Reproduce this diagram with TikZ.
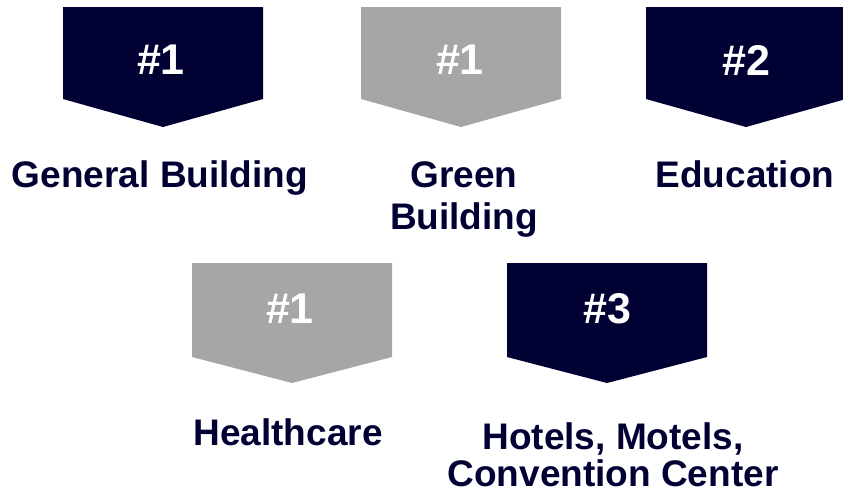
\documentclass[tikz,border=0pt]{standalone}
\usepackage{fontspec}
\setmainfont{Liberation Sans}
\definecolor{navy}{HTML}{000033}
\definecolor{greyf}{HTML}{A6A6A6}
\begin{document}
\begin{tikzpicture}[x=1pt,y=-1pt,
  numtxt/.style={text=white,font=\fontsize{43}{45}\selectfont\bfseries,inner sep=0pt},
  lbl/.style={text=navy,font=\fontsize{37}{42}\selectfont\bfseries,inner sep=0pt,align=center,anchor=north}]
\useasboundingbox (0,0) rectangle (843,493);
% shapes: left x, top y, width 200
\fill[navy]  (63,7) -- (263,7) -- (263,99) -- (163,127) -- (63,99) -- cycle;
\fill[greyf] (361,7) -- (561,7) -- (561,99) -- (461,127) -- (361,99) -- cycle;
\fill[navy]  (646,7) -- (846,7) -- (846,99) -- (746,127) -- (646,99) -- cycle;
\fill[greyf] (192,263) -- (392,263) -- (392,357) -- (292,383) -- (192,357) -- cycle;
\fill[navy]  (507,263) -- (707,263) -- (707,357) -- (607,383) -- (507,357) -- cycle;
\node[numtxt] (n1) at (161,60) {\#1};
\node[numtxt] (n2) at (460,60) {\#1};
\node[numtxt] (n3) at (746,60) {\#2};
\node[numtxt] (n4) at (290,309) {\#1};
\node[numtxt] (n5) at (607,309) {\#3};
\node[lbl] (l1) at (160,160) {General Building};
\node[lbl] (l2) at (464,161) {Green\\Building};
\node[lbl] (l3) at (745,160) {Education};
\node[lbl] (l4) at (288,418) {Healthcare};
\node[lbl,font=\fontsize{37}{37}\selectfont\bfseries] (l5) at (613,422) {Hotels, Motels,\\Convention Center};
\end{tikzpicture}
\end{document}
